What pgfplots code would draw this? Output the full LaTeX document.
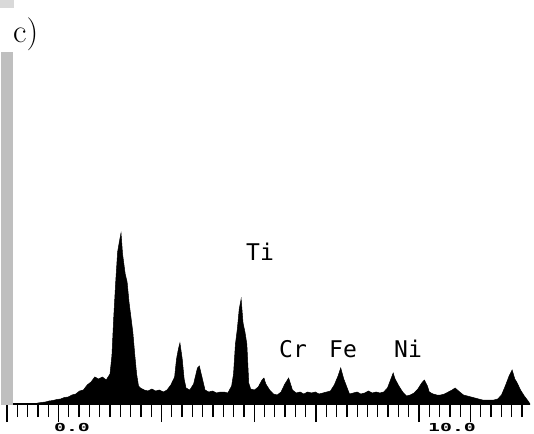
\documentclass[border=0pt]{standalone}
\usepackage{pgfplots}
\pgfplotsset{compat=1.18}
\usepackage{fontspec}
\newfontfamily\monofont{DejaVu Sans Mono}
\begin{document}
\begin{tikzpicture}[x=1pt,y=1pt]
\useasboundingbox (0,0) rectangle (534,433);
\begin{axis}[
  at={(7pt,29pt)}, anchor=south west,
  scale only axis, width=523pt, height=354pt,
  xmin=-1.71, xmax=12.05, ymin=0, ymax=354,
  axis x line*=bottom, axis y line=none,
  axis line style={line width=1.2pt},
  tick align=outside,
  xtick={-1.71,-0.355,2.355,4.794,6.42,9.13,10.485},
  minor xtick={-1.71,-1.439,...,12.1},
  xticklabels={},
  major tick length=18pt, minor tick length=13pt,
  every tick/.style={black, line width=1.3pt},
  clip=false,
]
\addplot[fill=black, draw=black, line width=0.5pt] coordinates {
(-1.71,0) (-1.0,0) (-0.9,1) (-0.8,1.5) (-0.7,2) (-0.6,3) (-0.5,3.5) (-0.4,4.5) (-0.3,5) (-0.2,6.5) (-0.1,7) (0.0,9) (0.1,10) (0.2,13) (0.3,14) (0.4,19) (0.5,22) (0.6,27) (0.7,25) (0.8,27) (0.9,24) (1.0,30) (1.05,48) (1.1,88) (1.15,122) (1.2,152) (1.25,163) (1.29,171) (1.33,150) (1.4,130) (1.45,122) (1.5,102) (1.6,72) (1.65,50) (1.7,30) (1.75,18) (1.8,16) (1.9,14) (2.0,13) (2.1,15) (2.2,13) (2.3,14) (2.4,12) (2.5,14) (2.6,19) (2.7,27) (2.75,45) (2.8,55) (2.84,61) (2.9,45) (2.95,25) (3.0,16) (3.1,14) (3.2,20) (3.25,28) (3.3,36) (3.35,38) (3.4,30) (3.45,22) (3.5,14) (3.6,12) (3.7,13) (3.8,11) (3.9,12) (4.0,12) (4.1,11) (4.2,18) (4.25,30) (4.3,60) (4.35,75) (4.4,95) (4.45,105) (4.5,81) (4.55,72) (4.6,60) (4.65,21) (4.7,15) (4.8,14) (4.9,17) (5.0,24) (5.05,26) (5.1,20) (5.2,14) (5.3,10) (5.4,9) (5.5,12) (5.6,20) (5.7,26) (5.8,14) (5.9,11) (6.0,12) (6.1,10) (6.2,12) (6.3,11) (6.4,12) (6.5,10) (6.6,11) (6.7,12) (6.8,13) (6.9,19) (7.0,28) (7.07,36) (7.15,25) (7.2,20) (7.3,10) (7.4,11) (7.5,12) (7.6,10) (7.7,11) (7.8,13) (7.9,11) (8.0,12) (8.1,11) (8.2,12) (8.3,16) (8.4,26) (8.45,31) (8.5,25) (8.6,18) (8.7,12) (8.8,8) (8.9,9) (9.0,11) (9.1,15) (9.2,21) (9.27,24) (9.35,18) (9.4,12) (9.5,10) (9.6,9) (9.7,9) (9.8,10) (9.9,12) (10.0,14) (10.08,16) (10.2,12) (10.3,9) (10.4,8) (10.5,7) (10.6,6) (10.7,5) (10.8,4) (10.9,4) (11.0,4) (11.1,4) (11.2,5) (11.3,9) (11.4,18) (11.5,28) (11.58,34) (11.65,25) (11.7,22) (11.8,14) (11.9,8) (12.0,3) (12.05,0)
} \closedcycle;
\end{axis}
% scanned grey strip at the left edge
\fill[gray!50] (1,28) rectangle (13,381);
\fill[gray!30] (0,425) rectangle (14,433);
% panel label
\node[anchor=base west, inner sep=0] at (13,390) {\fontsize{33}{33}\selectfont c)};
% element labels
\node[anchor=base west, inner sep=0] at (246,172) {\monofont\fontsize{23}{23}\selectfont Ti};
\node[anchor=base west, inner sep=0] at (279,76) {\monofont\fontsize{23}{23}\selectfont Cr};
\node[anchor=base west, inner sep=0] at (329,76) {\monofont\fontsize{23}{23}\selectfont Fe};
\node[anchor=base west, inner sep=0] at (394,76) {\monofont\fontsize{23}{23}\selectfont Ni};
% tick labels
\node[anchor=base, inner sep=0, xscale=1.8] at (72,1.5) {\monofont\bfseries\fontsize{11}{11}\selectfont 0.0};
\node[anchor=base, inner sep=0, xscale=1.8] at (452,1.5) {\monofont\bfseries\fontsize{11}{11}\selectfont 10.0};
\end{tikzpicture}
\end{document}
